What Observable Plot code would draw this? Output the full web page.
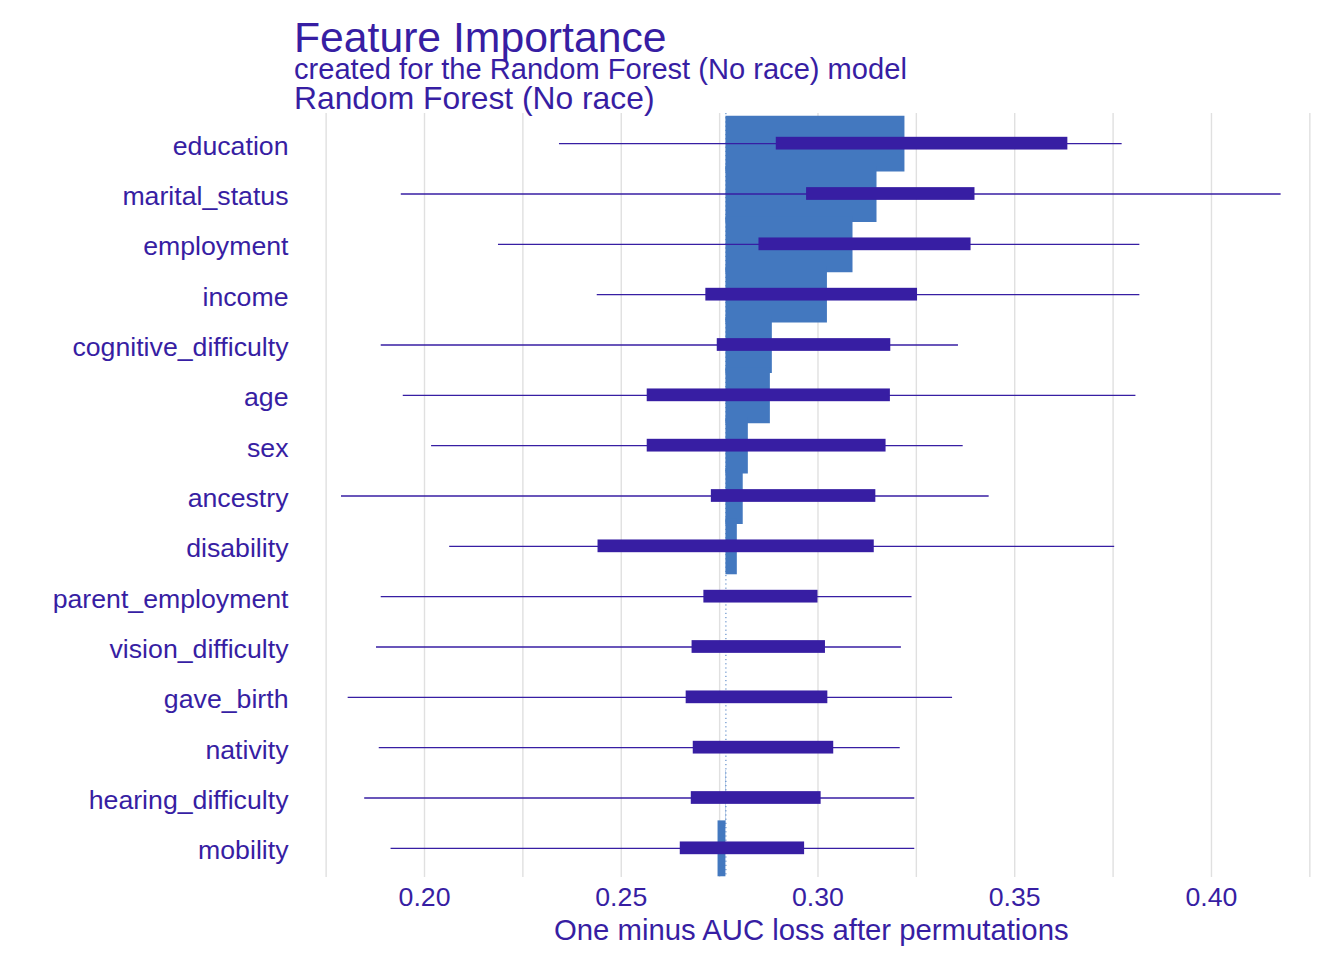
<!DOCTYPE html>
<html><head><meta charset="utf-8">
<script src="https://cdn.jsdelivr.net/npm/d3@7"></script>
<script src="https://cdn.jsdelivr.net/npm/@observablehq/plot@0.6"></script>
<style>
html,body{margin:0;padding:0;background:#fff;overflow:hidden;}
body{width:1344px;height:960px;font-family:"Liberation Sans",Arial,sans-serif;color:#371ea3;}
#header{position:relative;height:105px;}
#header div{position:absolute;left:294px;line-height:1;white-space:nowrap;}
</style></head><body>
<div id="header">
<div id="title" style="top:16px;font-size:42.7px">Feature Importance</div>
<div id="subtitle" style="top:55px;font-size:29.1px">created for the Random Forest (No race) model</div>
<div id="strip" style="top:83px;font-size:31.8px">Random Forest (No race)</div>
</div>
<div id="chart"></div>
<script>
const variables = ["education","marital_status","employment","income","cognitive_difficulty","age","sex","ancestry","disability","parent_employment","vision_difficulty","gave_birth","nativity","hearing_difficulty","mobility"];
const meanLoss = [0.3221,0.3150,0.3089,0.3024,0.2884,0.2879,0.2823,0.2810,0.2795,0.2766,0.2766,0.2766,0.2766,0.27652,0.2746];
const boxMin   = [0.2343,0.1941,0.2188,0.2439,0.1890,0.1946,0.2018,0.1789,0.2064,0.1890,0.1878,0.1806,0.1885,0.1848,0.1915];
const boxQ1    = [0.2894,0.2971,0.2850,0.2715,0.2744,0.2566,0.2566,0.2729,0.2441,0.2710,0.2680,0.2665,0.2683,0.2678,0.2650];
const boxQ3    = [0.3635,0.3399,0.3389,0.3253,0.3185,0.3184,0.3173,0.3147,0.3143,0.3000,0.3019,0.3025,0.3040,0.3008,0.2966];
const boxMax   = [0.3773,0.4177,0.3818,0.3818,0.3357,0.3808,0.3369,0.3435,0.3754,0.3239,0.3212,0.3342,0.3209,0.3246,0.3246];
const baseline = 0.2766;
const xTicks = [0.20,0.25,0.30,0.35,0.40];
const gridTicks = [0.175,0.20,0.225,0.25,0.275,0.30,0.325,0.35,0.375,0.40,0.425];
const xLabel = "One minus AUC loss after permutations";

const data = variables.map((v,i)=>({variable:v, mean:meanLoss[i], min:boxMin[i], q1:boxQ1[i], q3:boxQ3[i], max:boxMax[i], base:baseline}));
const dark = "#371ea3", blue = "#4378bf";

const chart = Plot.plot({
  width: 1344, height: 855,
  marginLeft: 294, marginRight: 16.4, marginTop: 8, marginBottom: 83,
  style: {fontFamily: "'Liberation Sans', Arial, sans-serif", color: dark, background: "#fff", overflow: "visible"},
  x: {domain: [0.16696, 0.42964], label: null},
  y: {domain: variables, padding: 0, round: false, insetTop: 5, insetBottom: 4, label: null},
  marks: [
    Plot.gridX(gridTicks, {stroke: "#e0e0e0", strokeOpacity: 1, strokeWidth: 1.4}),
    Plot.ruleX([baseline], {stroke: blue, strokeDasharray: "1.2,3", strokeWidth: 1}),
    Plot.ruleY(data, {y: "variable", x1: "base", x2: "mean", stroke: blue, strokeWidth: 55.9, strokeLinecap: "butt"}),
    Plot.ruleY(data, {y: "variable", x1: "min", x2: "max", stroke: dark, strokeWidth: 1.4}),
    Plot.barX(data, {y: "variable", x1: "q1", x2: "q3", fill: dark, insetTop: 18.8, insetBottom: 18.8}),
    Plot.axisX(xTicks, {tickSize: 0, tickPadding: 10, tickFormat: d3.format(".2f"), fontSize: 26.7, fill: dark, label: null}),
    Plot.axisY({tickSize: 0, tickPadding: 6, fontSize: 26.7, dy: 2.5, fill: dark, label: null}),
    Plot.text([xLabel], {frameAnchor: "bottom", lineAnchor: "top", dy: 42, fontSize: 29.3, fill: dark})
  ]
});
document.getElementById("chart").appendChild(chart);
</script>
</body></html>
